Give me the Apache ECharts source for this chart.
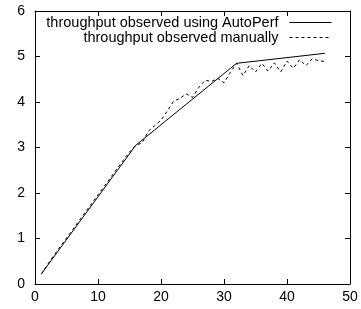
<!DOCTYPE html>
<html>
<head>
<meta charset="utf-8">
<script src="https://cdn.jsdelivr.net/npm/echarts@6/dist/echarts.min.js"></script>
<style>html,body{margin:0;padding:0;background:#fff}#c{width:361px;height:309px}</style>
</head>
<body>
<div id="c"></div>
<script>
const autoX = [1, 16, 32, 46];
const autoY = [0.22, 3.05, 4.85, 5.07];
const manualX = [1,2,3,4,5,6,7,8,9,10,11,12,13,14,15,16,17,18,19,20,21,22,23,24,25,26,27,28,29,30,31,32,33,34,35,36,37,38,39,40,41,42,43,44,45,46];
const manualY = [0.22,0.43,0.63,0.82,1.01,1.20,1.39,1.58,1.77,1.96,2.15,2.34,2.53,2.72,2.90,3.05,3.10,3.36,3.48,3.60,3.80,4.02,4.08,4.18,4.10,4.32,4.48,4.45,4.52,4.42,4.65,4.85,4.58,4.80,4.66,4.85,4.68,4.86,4.66,4.90,4.74,4.93,4.80,4.95,4.91,4.89];
const xTicks = [0, 10, 20, 30, 40, 50];
const yTicks = [0, 1, 2, 3, 4, 5, 6];
const names = ['throughput observed using AutoPerf', 'throughput observed manually'];

const font = 'Liberation Sans';
const chart = echarts.init(document.getElementById('c'), null, {renderer: 'canvas'});
const axisBase = {
  axisLine: {show: true, onZero: false, lineStyle: {color: '#000', width: 1}},
  axisTick: {show: true, inside: true, length: 5, lineStyle: {color: '#000'}},
  splitLine: {show: false}
};
chart.setOption({
  animation: false,
  backgroundColor: '#fff',
  grid: {left: 35, right: 11, top: 11, bottom: 25, containLabel: false},
  legend: {
    orient: 'vertical', align: 'right', right: 29, top: 15,
    itemWidth: 42, itemHeight: 17, itemGap: 0, padding: 0,
    itemStyle: {color: 'rgba(0,0,0,0)', borderWidth: 0, opacity: 0},
    lineStyle: {width: 1},
    textStyle: {fontFamily: font, fontSize: 14.5, color: '#000', padding: [0, 6, 0, 0]},
    data: names
  },
  xAxis: [
    Object.assign({type: 'value', position: 'bottom', min: xTicks[0], max: xTicks[xTicks.length-1], interval: 10,
      axisLabel: {color: '#000', fontFamily: font, fontSize: 14, margin: 6}}, axisBase),
    Object.assign({type: 'value', position: 'top', min: xTicks[0], max: xTicks[xTicks.length-1], interval: 10,
      axisLabel: {show: false}}, axisBase)
  ],
  yAxis: [
    Object.assign({type: 'value', position: 'left', min: yTicks[0], max: yTicks[yTicks.length-1], interval: 1,
      axisLabel: {color: '#000', fontFamily: font, fontSize: 14, margin: 10}}, axisBase),
    Object.assign({type: 'value', position: 'right', min: yTicks[0], max: yTicks[yTicks.length-1], interval: 1,
      axisLabel: {show: false}}, axisBase)
  ],
  series: [
    {name: names[0], type: 'line', symbol: 'none', xAxisIndex: 0, yAxisIndex: 0,
     data: autoX.map((x, i) => [x, autoY[i]]),
     lineStyle: {color: '#000', width: 1}, itemStyle: {color: '#000'}},
    {name: names[1], type: 'line', symbol: 'none', xAxisIndex: 0, yAxisIndex: 0,
     data: manualX.map((x, i) => [x, manualY[i]]),
     lineStyle: {color: '#000', width: 1, type: [3, 3]}, itemStyle: {color: '#000'}}
  ]
});
</script>
</body>
</html>
